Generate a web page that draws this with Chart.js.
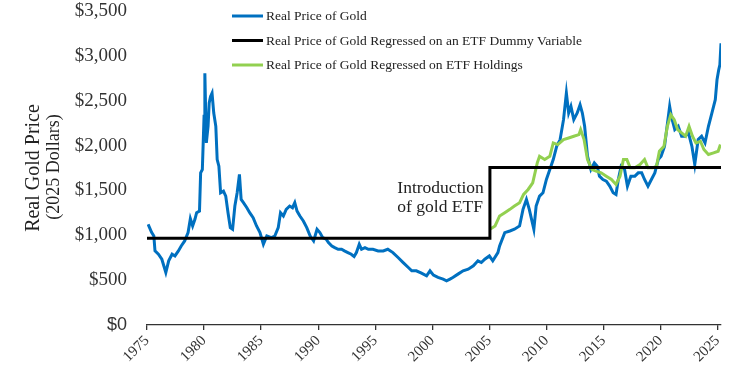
<!DOCTYPE html>
<html>
<head>
<meta charset="utf-8">
<script src="https://cdn.jsdelivr.net/npm/chart.js@4.4.1/dist/chart.umd.min.js"></script>
<style>
  html, body { margin: 0; padding: 0; background: #fff; }
  #wrap { position: relative; width: 752px; height: 382px; }
</style>
</head>
<body>
<div id="wrap"><canvas id="c" width="752" height="382"></canvas></div>
<script>
// ---- data ----
const goldYears = [1975.1,1975.4,1975.6,1975.7,1976.0,1976.3,1976.65,1976.9,1977.2,1977.45,1977.75,1978.0,1978.3,1978.6,1978.8,1979.0,1979.2,1979.35,1979.6,1979.7,1979.85,1980.0,1980.07,1980.2,1980.35,1980.45,1980.57,1980.7,1980.85,1981.03,1981.15,1981.3,1981.45,1981.7,1981.9,1982.1,1982.3,1982.5,1982.7,1982.9,1983.1,1983.25,1983.45,1983.75,1984.0,1984.3,1984.6,1984.9,1985.2,1985.5,1985.9,1986.2,1986.5,1986.7,1986.95,1987.2,1987.5,1987.75,1987.95,1988.15,1988.4,1988.7,1989.0,1989.3,1989.6,1989.9,1990.15,1990.4,1990.7,1990.9,1991.2,1991.45,1991.75,1992.05,1992.3,1992.6,1992.9,1993.15,1993.35,1993.6,1993.8,1994.1,1994.4,1994.8,1995.25,1995.7,1996.1,1996.55,1997.0,1997.45,1997.9,1998.2,1998.6,1999.05,1999.5,1999.8,2000.1,2000.5,2000.95,2001.25,2001.55,2001.8,2002.25,2002.7,2003.15,2003.6,2004.0,2004.3,2004.6,2005.0,2005.3,2005.75,2005.9,2006.35,2006.8,2007.2,2007.65,2007.95,2008.25,2008.5,2008.9,2009.1,2009.4,2009.7,2010.0,2010.3,2010.6,2010.9,2011.2,2011.5,2011.75,2011.95,2012.15,2012.4,2012.7,2012.95,2013.15,2013.35,2013.6,2013.9,2014.2,2014.45,2014.65,2014.95,2015.25,2015.55,2015.85,2016.1,2016.3,2016.55,2016.85,2017.1,2017.4,2017.75,2018.05,2018.35,2018.6,2018.9,2019.2,2019.5,2019.8,2020.05,2020.35,2020.65,2020.8,2020.95,2021.25,2021.55,2021.85,2022.15,2022.45,2022.75,2023.0,2023.3,2023.6,2023.9,2024.2,2024.5,2024.8,2024.95,2025.1,2025.2,2025.3];
const goldPrices = [1122,1033,992,826,789,733,585,715,789,770,826,881,937,1030,1185,1104,1178,1252,1270,1696,1733,2326,2807,2030,2215,2474,2548,2585,2363,2215,1844,1770,1474,1492,1437,1252,1085,1067,1326,1474,1678,1400,1363,1307,1252,1196,1104,1030,900,992,974,992,1085,1252,1215,1289,1326,1307,1363,1270,1215,1159,1085,992,937,1067,1030,974,956,919,881,863,844,844,826,807,789,763,807,900,844,863,844,844,826,826,844,807,752,696,641,604,604,578,548,604,556,530,511,493,511,530,567,604,622,659,715,696,733,770,715,807,881,1030,1048,1067,1104,1289,1400,1289,1067,1326,1437,1474,1622,1733,1844,1992,2067,2289,2585,2363,2437,2289,2363,2455,2363,2215,1881,1733,1807,1770,1659,1622,1604,1548,1474,1455,1622,1770,1733,1548,1659,1659,1696,1696,1622,1548,1622,1696,1844,1881,1992,2289,2437,2326,2178,2215,2104,2104,2141,1992,1789,2067,2104,2030,2215,2363,2511,2733,2844,2900,3141];

const dummyYears  = [1975.0, 2005.05, 2025.3];
const dummyValues = [967, 1755, 1755];

const holdingsYears = [2005.05,2005.5,2005.9,2006.35,2006.8,2007.2,2007.65,2008.0,2008.4,2008.8,2009.2,2009.4,2009.85,2010.3,2010.6,2011.0,2011.5,2011.95,2012.4,2012.85,2013.0,2013.3,2013.6,2014.0,2014.35,2014.8,2015.25,2015.7,2016.1,2016.45,2016.75,2017.05,2017.35,2017.75,2018.2,2018.6,2018.9,2019.35,2019.65,2019.9,2020.3,2020.6,2020.9,2021.2,2021.5,2021.85,2022.2,2022.5,2022.8,2023.1,2023.5,2023.8,2024.2,2024.65,2025.05,2025.25];
const holdingsValues = [1067,1104,1215,1252,1289,1326,1363,1455,1511,1585,1807,1881,1844,1881,2030,2011,2067,2085,2104,2122,2178,2067,1844,1733,1715,1696,1659,1622,1567,1659,1844,1844,1752,1752,1789,1844,1752,1752,1770,1937,1992,2215,2344,2289,2178,2141,2104,2215,2104,2030,2048,1956,1900,1919,1937,2011];

const xTickYears = [1975,1980,1985,1990,1995,2000,2005,2010,2015,2020,2025];
const yTickValues = [0,500,1000,1500,2000,2500,3000,3500];

const seriesNames = [
  'Real Price of Gold',
  'Real Price of Gold Regressed on an ETF Dummy Variable',
  'Real Price of Gold Regressed on ETF Holdings'
];
const axisTitle = 'Real Gold Price';
const axisSubtitle = '(2025 Dollars)';
const noteLines = ['Introduction', 'of gold ETF'];
const etfYear = 2005;

// ---- chart ----
const SERIF = '"Liberation Serif", "DejaVu Serif", serif';
const TEXT = '#333333';

function pts(xs, ys) { return xs.map((x, i) => ({ x: x, y: ys[i] })); }

const overlay = {
  id: 'overlay',
  afterDraw(chart) {
    const ctx = chart.ctx;
    ctx.save();
    // legend
    chart.data.datasets.forEach((ds, i) => {
      const y = 16 + i * 24.5;
      ctx.strokeStyle = ds.borderColor;
      ctx.lineWidth = 3;
      ctx.beginPath();
      ctx.moveTo(232, y);
      ctx.lineTo(263, y);
      ctx.stroke();
      ctx.fillStyle = '#222';
      ctx.font = '13.5px ' + SERIF;
      ctx.textAlign = 'left';
      ctx.textBaseline = 'middle';
      ctx.fillText(ds.label, 266, y + 0.5);
    });
    // y axis title
    ctx.fillStyle = '#222';
    ctx.textAlign = 'center';
    ctx.textBaseline = 'middle';
    ctx.save();
    ctx.translate(34, 168);
    ctx.rotate(-Math.PI / 2);
    ctx.font = '20px ' + SERIF;
    ctx.fillText(axisTitle, 0, 0);
    ctx.restore();
    ctx.save();
    ctx.translate(54, 167);
    ctx.rotate(-Math.PI / 2);
    ctx.font = '18px ' + SERIF;
    ctx.fillText(axisSubtitle, 0, 0);
    ctx.restore();
    // annotation
    const xs = chart.scales.x;
    const ax = xs.getPixelForValue(etfYear) - 92;
    ctx.font = '17.5px ' + SERIF;
    ctx.textAlign = 'left';
    ctx.textBaseline = 'alphabetic';
    ctx.fillText(noteLines[0], ax, 193);
    ctx.fillText(noteLines[1], ax, 212);
    ctx.restore();
  }
};

new Chart(document.getElementById('c'), {
  type: 'line',
  data: {
    datasets: [
      { label: seriesNames[0], data: pts(goldYears, goldPrices), borderColor: '#0070C0', borderWidth: 3, pointRadius: 0, tension: 0, order: 3 },
      { label: seriesNames[1], data: pts(dummyYears, dummyValues), borderColor: '#000000', borderWidth: 3, pointRadius: 0, stepped: 'before', order: 1 },
      { label: seriesNames[2], data: pts(holdingsYears, holdingsValues), borderColor: '#92D050', borderWidth: 3, pointRadius: 0, tension: 0, order: 2 }
    ]
  },
  options: {
    responsive: false,
    animation: false,
    events: [],
    layout: { padding: { left: 0, right: 31, top: 11, bottom: 0 } },
    plugins: { legend: { display: false }, tooltip: { enabled: false } },
    scales: {
      x: {
        type: 'linear',
        min: 1975,
        max: 2025.3,
        afterBuildTicks(scale) { scale.ticks = xTickYears.map(v => ({ value: v })); },
        afterFit(scale) { scale.height = 57; scale.paddingLeft = 0; scale.paddingRight = 0; },
        border: { display: true, color: '#333', width: 1.3 },
        grid: { display: true, drawOnChartArea: false, drawTicks: true, tickLength: 5, color: '#333', lineWidth: 1.3 },
        ticks: {
          autoSkip: false,
          minRotation: 45,
          maxRotation: 45,
          padding: 2,
          color: TEXT,
          font: { family: SERIF, size: 15 },
          callback: v => String(v)
        }
      },
      y: {
        min: 0,
        max: 3500,
        afterBuildTicks(scale) { scale.ticks = yTickValues.map(v => ({ value: v })); },
        afterFit(scale) { scale.width = 147; scale.paddingTop = 0; scale.paddingBottom = 0; },
        border: { display: false },
        grid: { display: false, drawTicks: false },
        ticks: {
          padding: 20,
          color: TEXT,
          font: ctx => (ctx.tick && ctx.tick.value === 0)
            ? { family: '"Liberation Sans", Arial, sans-serif', size: 18 }
            : { family: SERIF, size: 19 },
          callback: v => '$' + Number(v).toLocaleString('en-US')
        }
      }
    }
  },
  plugins: [overlay]
});
</script>
</body>
</html>
